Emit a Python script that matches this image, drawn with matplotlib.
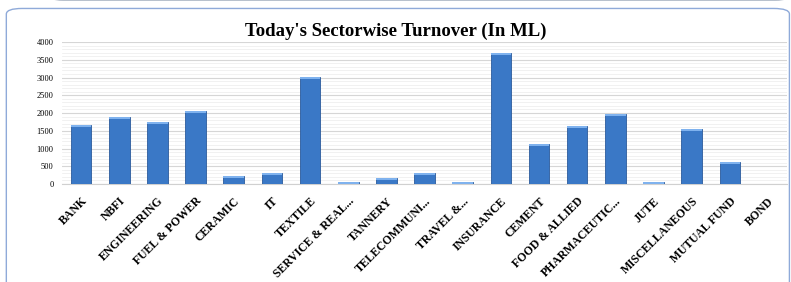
import numpy as np
import matplotlib.pyplot as plt
from matplotlib.patches import FancyBboxPatch

sectors = ["BANK", "NBFI", "ENGINEERING", "FUEL & POWER", "CERAMIC", "IT", "TEXTILE",
           "SERVICE & REAL...", "TANNERY", "TELECOMMUNI...", "TRAVEL &...", "INSURANCE",
           "CEMENT", "FOOD & ALLIED", "PHARMACEUTIC...", "JUTE", "MISCELLANEOUS",
           "MUTUAL FUND", "BOND"]
turnover = [1655, 1895, 1755, 2065, 225, 318, 3025, 45, 170, 310, 45, 3700,
            1125, 1640, 1980, 45, 1540, 620, 0]
yticks = [0, 500, 1000, 1500, 2000, 2500, 3000, 3500, 4000]

fig = plt.figure(figsize=(7.91, 2.82), dpi=100)
fig.patch.set_facecolor("white")

# outer panel frames (behind the axes)
fig.patches.append(FancyBboxPatch((0.008, -0.05), 0.99, 1.02, boxstyle="round,pad=0,rounding_size=0.02",
                                  transform=fig.transFigure, fc="white", ec="#8faad9", lw=1.0, zorder=-10))
fig.patches.append(FancyBboxPatch((0.06, 1.0), 0.94, 0.1, boxstyle="round,pad=0,rounding_size=0.02",
                                  transform=fig.transFigure, fc="#eef0f3", ec="#9aa6b8", lw=1.0, zorder=-10))

ax = fig.add_axes([0.0784, 0.3475, 0.9166, 0.5035])
ax.patch.set_alpha(0)
x = np.arange(len(sectors))
vals = np.array(turnover)
ax.bar(x, vals, width=0.54, color="#3a78c6", edgecolor="#2b5b9c", linewidth=0.6, zorder=3)
cap = np.minimum(vals, 60)
ax.bar(x, cap, bottom=vals - cap, width=0.54, color="#7fb2ee", edgecolor="none", zorder=4)

ax.set_xlim(-0.5, len(sectors) - 0.5)
ax.set_ylim(0, 4000)
ax.set_yticks(yticks)
ax.set_yticks(np.arange(0, 4001, 100), minor=True)
ax.grid(axis="y", which="major", color="#d6d6d6", lw=0.8, zorder=0)
ax.grid(axis="y", which="minor", color="#ececec", lw=0.5, zorder=0)
for s in ["top", "right", "left"]:
    ax.spines[s].set_visible(False)
ax.spines["bottom"].set_color("#d0d0d0")
ax.tick_params(axis="both", which="both", length=0)
ax.tick_params(axis="y", labelsize=6, pad=6)
for lab in ax.get_yticklabels():
    lab.set_fontfamily("Liberation Serif")

ax.set_xticks(x)
ax.set_xticklabels(sectors, rotation=45, ha="right", rotation_mode="anchor",
                   fontsize=8.5, fontfamily="Liberation Serif", fontweight="bold")
ax.tick_params(axis="x", pad=8)

fig.text(0.5, 0.89, "Today's Sectorwise Turnover (In ML)", ha="center", va="center",
         fontsize=13.5, fontweight="bold", fontfamily="Liberation Serif")

fig.savefig("out.png", dpi=100)
